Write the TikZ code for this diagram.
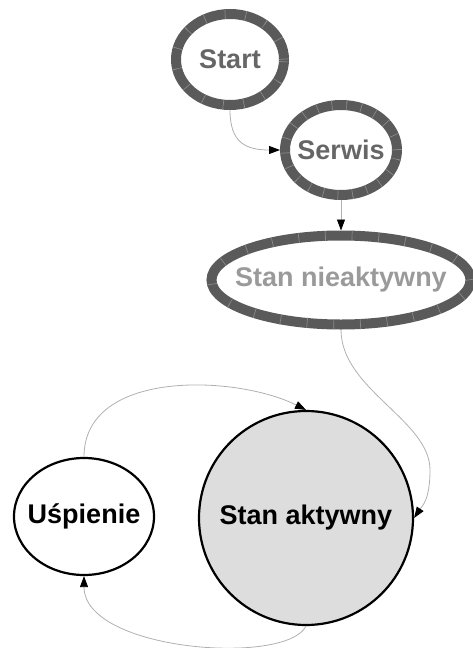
\documentclass[tikz,border=0pt]{standalone}
\usepackage{fontspec}
\setmainfont{Liberation Sans}
\usetikzlibrary{shapes.geometric,arrows.meta}

\definecolor{ringgray}{HTML}{5A5A5A}
\definecolor{tickgray}{HTML}{8A8A8A}
\definecolor{darktext}{HTML}{666666}
\definecolor{lighttext}{HTML}{9A9A9A}
\definecolor{edgegray}{HTML}{B0B0B0}
\definecolor{activefill}{HTML}{DDDDDD}

\tikzset{
  statetext/.style={font=\fontsize{27}{30}\selectfont\bfseries, inner sep=0pt},
  ringstate/.style={ellipse, draw=ringgray, line width=10pt, inner sep=0pt,
    postaction={draw=tickgray, line width=10pt, dash pattern=on 0.7pt off #1}},
  plainstate/.style={ellipse, draw=black, line width=2.2pt, inner sep=0pt},
  trans/.style={draw=edgegray, line width=0.8pt,
    -{Triangle[length=11pt,width=8pt,color=black]}}
}

\begin{document}
\begin{tikzpicture}[x=1pt,y=-1pt]
  \useasboundingbox (0,0) rectangle (472,648);

  % states (the outline size is fixed; the name sits as a centred label)
  \node[ringstate=20pt, minimum width=108pt, minimum height=91pt,
        label={[statetext, text=darktext]center:Start}]
    (start) at (230,59.5) {};
  \node[ringstate=14pt, minimum width=112pt, minimum height=90pt,
        label={[statetext, text=darktext]center:Serwis}]
    (serwis) at (341,150) {};
  \node[ringstate=26pt, minimum width=259pt, minimum height=89pt,
        label={[statetext, text=lighttext]center:Stan nieaktywny}]
    (nieakt) at (341,280) {};
  \node[plainstate, circle, fill=activefill, minimum size=214pt,
        label={[statetext]center:Stan aktywny}]
    (akt) at (306,518) {};
  \node[plainstate, minimum width=140pt, minimum height=117pt,
        label={[statetext]center:Uśpienie}]
    (usp) at (84,516.5) {};

  % transitions
  \draw[trans] (start.south) .. controls +(0,32) and +(-35,0) .. (serwis.west);
  \draw[trans] (serwis.south) -- (nieakt.north);
  \draw[trans] (nieakt.south) .. controls +(0,60) and +(0,-50) .. (430,470)
                              .. controls +(0,30) and +(8,-12) .. (akt.east);
  \draw[trans] (usp.north) .. controls +(0,-88) and +(-70,-35) .. (akt.north);
  \draw[trans] (akt.south) .. controls +(-20,40) and +(0,75) .. (usp.south);
\end{tikzpicture}
\end{document}
